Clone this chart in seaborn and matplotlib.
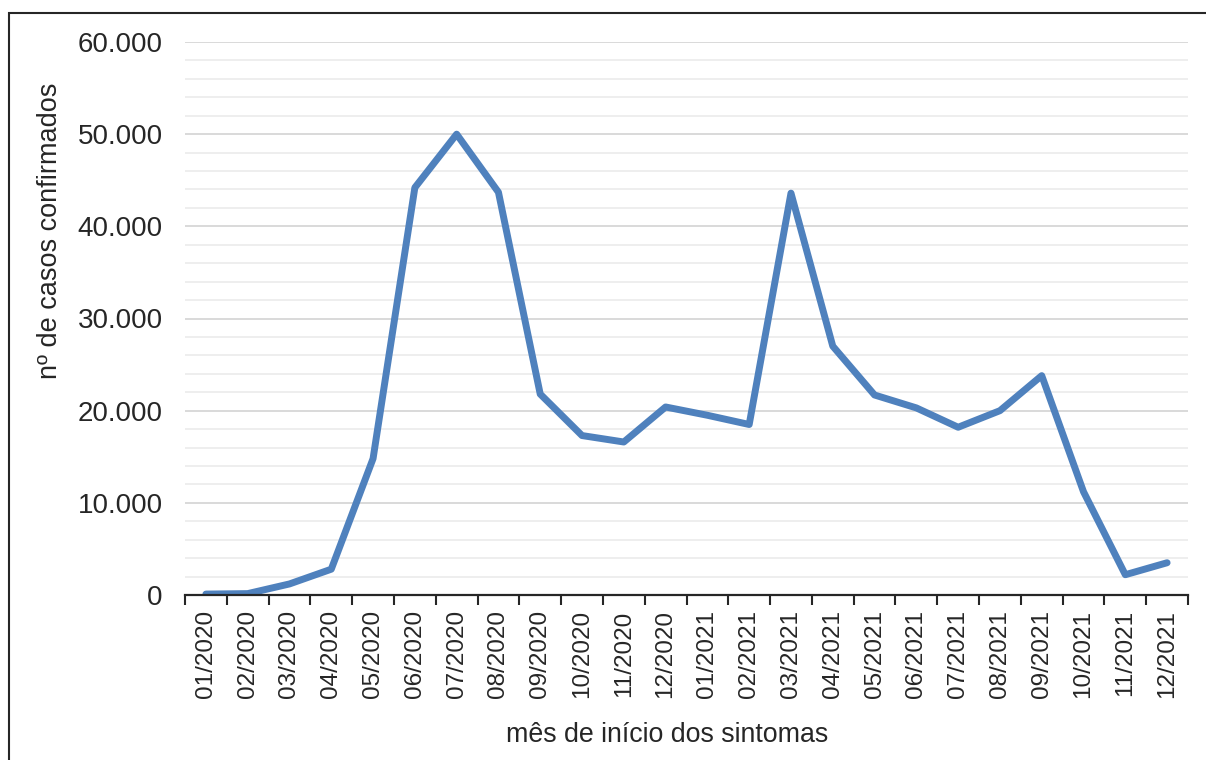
import matplotlib
matplotlib.use("Agg")
import matplotlib.pyplot as plt
from matplotlib.patches import Rectangle
from matplotlib.ticker import FuncFormatter, MultipleLocator, FixedLocator
import seaborn as sns
import pandas as pd

meses = ["01/2020", "02/2020", "03/2020", "04/2020", "05/2020", "06/2020",
         "07/2020", "08/2020", "09/2020", "10/2020", "11/2020", "12/2020",
         "01/2021", "02/2021", "03/2021", "04/2021", "05/2021", "06/2021",
         "07/2021", "08/2021", "09/2021", "10/2021", "11/2021", "12/2021"]
casos = [100, 150, 1200, 2800, 14800, 44200, 50000, 43700, 21800, 17300,
         16600, 20400, 19500, 18500, 43600, 27000, 21700, 20300, 18200,
         20000, 23800, 11200, 2200, 3500]

y_titulo = "nº de casos confirmados"
x_titulo = "mês de início dos sintomas"

sns.set_theme(style="white")
plt.rcParams["font.family"] = ["Liberation Sans", "DejaVu Sans"]
texto = "#262626"

W, H = 1206, 760
fig = plt.figure(figsize=(W / 100, H / 100), dpi=100)
ax = fig.add_axes([185 / W, 1 - 595 / H, (1188 - 185) / W, (595 - 42) / H])

df = pd.DataFrame({"mes": range(len(meses)), "casos": casos})
sns.lineplot(data=df, x="mes", y="casos", ax=ax, color="#4F81BD",
             linewidth=5.0, solid_joinstyle="round", solid_capstyle="round",
             zorder=3)

ax.set_xlim(-0.5, len(meses) - 0.5)
ax.set_ylim(0, 60000)

# y axis: major every 10.000, light minor lines every 2.000
ax.yaxis.set_major_locator(MultipleLocator(10000))
ax.yaxis.set_minor_locator(MultipleLocator(2000))
ax.yaxis.set_major_formatter(
    FuncFormatter(lambda v, p: f"{int(v):,}".replace(",", ".")))
ax.grid(axis="y", which="minor", color="#EDEDED", linewidth=1.3, zorder=0)
ax.grid(axis="y", which="major", color="#D9D9D9", linewidth=1.4, zorder=1)
ax.grid(axis="x", which="both", visible=False)
ax.set_axisbelow(True)

# x axis: labels at category centres, tick marks between categories
ax.xaxis.set_major_locator(FixedLocator(range(len(meses))))
ax.set_xticklabels(meses, rotation=90)
ax.xaxis.set_minor_locator(FixedLocator([i - 0.5 for i in range(len(meses) + 1)]))
ax.tick_params(axis="x", which="major", length=0, pad=11, labelsize=17.5,
               labelcolor=texto)
ax.tick_params(axis="x", which="minor", length=7, width=1.5, color=texto,
               bottom=True)
ax.tick_params(axis="y", which="both", length=0, pad=16, labelsize=20,
               labelcolor=texto)

for s in ["top", "right", "left"]:
    ax.spines[s].set_visible(False)
ax.spines["bottom"].set_color(texto)
ax.spines["bottom"].set_linewidth(1.6)
ax.spines["bottom"].set_zorder(4)

ax.set_ylabel(y_titulo, fontsize=19.5, color=texto)
ax.yaxis.set_label_coords((50 - 185) / (1188 - 185), (595 - 231) / (595 - 42))
ax.yaxis.label.set_va("center")
ax.set_xlabel(x_titulo, fontsize=19.3, color=texto)
ax.xaxis.set_label_coords((667 - 185) / (1188 - 185), (595 - 735) / (595 - 42))
ax.xaxis.label.set_va("center")

# outer frame (left and top edges visible)
fig.patches.append(Rectangle((8.5 / W, -0.5), 2, 1.5 - 12.5 / H,
                             transform=fig.transFigure, fill=False,
                             edgecolor=texto, linewidth=1.5))

fig.savefig("out.png", dpi=100)
